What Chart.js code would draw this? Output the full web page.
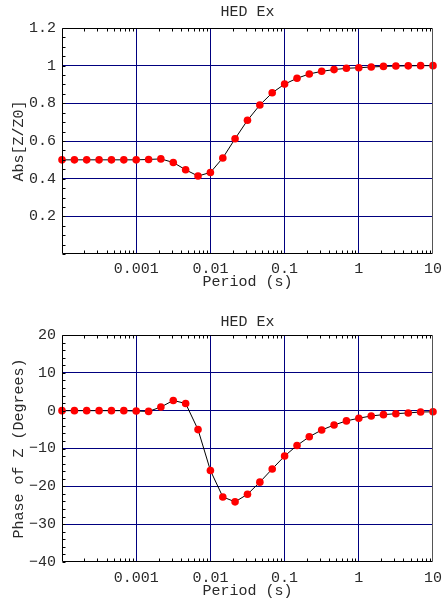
<!DOCTYPE html>
<html>
<head>
<meta charset="utf-8">
<script src="https://cdn.jsdelivr.net/npm/chart.js@4.4.1/dist/chart.umd.min.js"></script>
<style>
  html, body { margin: 0; padding: 0; background: #fff; }
  #wrap { position: relative; width: 442px; height: 601px; }
  canvas { position: absolute; left: 0; }
</style>
</head>
<body>
<div id="wrap">
  <canvas id="c1" width="442" height="300" style="top:0"></canvas>
  <canvas id="c2" width="442" height="301" style="top:300px"></canvas>
</div>
<script>
// ---- data ----
const periods = [0.0001, 0.000147, 0.000215, 0.000316, 0.000464, 0.000681,
                 0.001, 0.00147, 0.00215, 0.00316, 0.00464, 0.00681,
                 0.01, 0.0147, 0.0215, 0.0316, 0.0464, 0.0681,
                 0.1, 0.147, 0.215, 0.316, 0.464, 0.681,
                 1, 1.47, 2.15, 3.16, 4.64, 6.81, 10];
const absZ = [0.5, 0.5, 0.5, 0.5, 0.5, 0.5,
              0.5, 0.502, 0.505, 0.486, 0.447, 0.414,
              0.433, 0.51, 0.612, 0.71, 0.791, 0.856,
              0.902, 0.933, 0.956, 0.970, 0.979, 0.986,
              0.989, 0.993, 0.996, 0.998, 0.999, 1.0, 1.0];
const phaseZ = [0, 0, 0, 0, 0, 0,
                -0.1, -0.2, 0.96, 2.7, 1.9, -5.0,
                -15.8, -22.8, -24.1, -22.1, -18.9, -15.4,
                -12.0, -9.2, -6.9, -5.1, -3.8, -2.7,
                -2.0, -1.4, -1.05, -0.8, -0.6, -0.35, -0.3];
const xTickValues = [0.0001, 0.001, 0.01, 0.1, 1, 10];
const xTickLabels = ['', '0.001', '0.01', '0.1', '1', '10'];
const absTickValues = [0, 0.2, 0.4, 0.6, 0.8, 1, 1.2];
const absTickLabels = ['', '0.2', '0.4', '0.6', '0.8', '1', '1.2'];
const phaseTickValues = [-40, -30, -20, -10, 0, 10, 20];
const phaseTickLabels = ['\u221240', '\u221230', '\u221220', '\u221210', '0', '10', '20'];
const chartTitle = 'HED Ex';
const xTitle = 'Period (s)';
const absTitle = 'Abs[Z/Z0]';
const phaseTitle = 'Phase of Z (Degrees)';

// ---- styling ----
const FONT = "'Liberation Mono', 'Courier New', monospace";
const TXT = '#2a2a2a';
const GRID = '#00007f';

function xMinorValues() {
  const out = [];
  for (let e = -4; e < 1; e++) for (let k = 2; k <= 9; k++) out.push(k * Math.pow(10, e));
  return out;
}
function stepValues(min, max, step) {
  const out = [];
  for (let v = min; v <= max + 1e-9; v += step) out.push(v);
  return out;
}

const framePlugin = {
  id: 'frame',
  afterDraw(chart, args, opts) {
    const { ctx, chartArea: a, scales } = chart;
    const xs = scales.x, ys = scales.y;
    ctx.save();
    ctx.lineWidth = 1;
    ctx.strokeStyle = '#000';
    ctx.beginPath();
    const L = Math.round(a.left) + 0.5, R = Math.round(a.right) - 0.5;
    const T = Math.round(a.top) + 0.5, B = Math.round(a.bottom) - 0.5;
    opts.xMinor.forEach(v => {
      const px = Math.round(xs.getPixelForValue(v)) + 0.5;
      ctx.moveTo(px, B); ctx.lineTo(px, B - 3);
      ctx.moveTo(px, T); ctx.lineTo(px, T + 3);
    });
    opts.yMinor.forEach(v => {
      const py = Math.round(ys.getPixelForValue(v)) + 0.5;
      ctx.moveTo(L, py); ctx.lineTo(L + 3, py);
    });
    ctx.stroke();
    ctx.beginPath();
    ctx.moveTo(R, T); ctx.lineTo(L, T); ctx.lineTo(L, B); ctx.lineTo(R, B);
    ctx.stroke();
    ctx.strokeStyle = '#555';
    ctx.beginPath();
    ctx.moveTo(R, T); ctx.lineTo(R, B);
    ctx.stroke();
    ctx.restore();
  }
};

function makeChart(id, values, yMin, yMax, yTickValues, yTickLabels, yTitle, yMinorStep, cfg) {
  return new Chart(document.getElementById(id), {
    type: 'line',
    data: {
      datasets: [{
        data: periods.map((p, i) => ({ x: p, y: values[i] })),
        borderColor: '#000',
        borderWidth: 1,
        pointRadius: 3.8,
        pointBackgroundColor: '#ff0000',
        pointBorderWidth: 0,
        tension: 0,
        clip: false
      }]
    },
    options: {
      responsive: false,
      animation: false,
      devicePixelRatio: 1,
      layout: { padding: { left: 0, right: 9, top: 0, bottom: 0 } },
      plugins: {
        legend: { display: false },
        tooltip: { enabled: false },
        title: {
          display: true, text: chartTitle, fullSize: false, color: TXT,
          font: { family: FONT, size: 15, weight: 'normal', lineHeight: 1.2 },
          padding: cfg.titlePad
        },
        frame: { xMinor: xMinorValues(), yMinor: stepValues(yMin, yMax, yMinorStep) }
      },
      scales: {
        x: {
          type: 'logarithmic', min: 0.0001, max: 10,
          afterBuildTicks: s => { s.ticks = xTickValues.map(v => ({ value: v })); },
          afterFit: s => { s.height = cfg.xHeight; s.paddingRight = 9; s.paddingLeft = 0; },
          grid: {
            drawTicks: false,
            color: c => (c.tick && (c.tick.value === 0.0001 || c.tick.value === 10)) ? 'rgba(0,0,0,0)' : GRID,
            lineWidth: 1
          },
          border: { display: false },
          ticks: {
            autoSkip: false, maxRotation: 0, padding: cfg.xTickPad, color: TXT,
            font: { family: FONT, size: 15 },
            callback: v => { const i = xTickValues.indexOf(v); return i >= 0 ? xTickLabels[i] : ''; }
          },
          title: {
            display: true, text: xTitle, color: TXT,
            font: { family: FONT, size: 15, lineHeight: 1.2 },
            padding: { top: 0, bottom: cfg.xTitlePad }
          }
        },
        y: {
          min: yMin, max: yMax,
          afterBuildTicks: s => { s.ticks = yTickValues.map(v => ({ value: v })); },
          afterFit: s => { s.width = 62; s.paddingTop = 0; s.paddingBottom = 0; },
          grid: {
            drawTicks: false,
            color: c => (c.tick && (c.tick.value === yMin || c.tick.value === yMax)) ? 'rgba(0,0,0,0)' : GRID,
            lineWidth: 1
          },
          border: { display: false },
          ticks: {
            autoSkip: false, padding: 6, color: TXT,
            font: { family: FONT, size: 15 },
            callback: v => { const i = yTickValues.indexOf(v); return i >= 0 ? yTickLabels[i] : ''; }
          },
          title: {
            display: true, text: yTitle, color: TXT,
            font: { family: FONT, size: 15, lineHeight: 1.2 },
            padding: { top: 10, bottom: 0 }
          }
        }
      }
    },
    plugins: [framePlugin]
  });
}

makeChart('c1', absZ, 0, 1.2, absTickValues, absTickLabels, absTitle, 0.05,
  { titlePad: { top: 3, bottom: 7 }, xHeight: 46, xTickPad: 6, xTitlePad: 9 });
makeChart('c2', phaseZ, -40, 20, phaseTickValues, phaseTickLabels, phaseTitle, 2,
  { titlePad: { top: 13, bottom: 4 }, xHeight: 39, xTickPad: 7, xTitlePad: 1 });
</script>
</body>
</html>
